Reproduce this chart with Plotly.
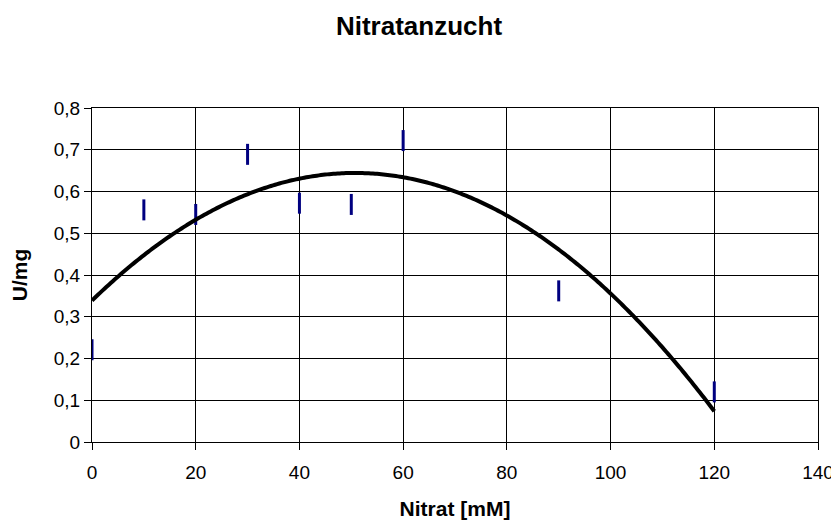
import numpy as np
import plotly.graph_objects as go

# Data
nitrat_mM = [0, 10, 20, 30, 40, 50, 60, 90, 120]
u_per_mg = [0.221, 0.556, 0.545, 0.689, 0.572, 0.569, 0.722, 0.362, 0.120]

x_ticks = [0, 20, 40, 60, 80, 100, 120, 140]
y_ticks = [0, 0.1, 0.2, 0.3, 0.4, 0.5, 0.6, 0.7, 0.8]

# Polynomial (order 2) trendline, as in the original spreadsheet chart
coef = np.polyfit(nitrat_mM, u_per_mg, 2)
trend_x = np.linspace(min(nitrat_mM), max(nitrat_mM), 300)
trend_y = np.polyval(coef, trend_x)

FONT = "Liberation Sans, Arial, sans-serif"

# The page body has an 8px default margin, so the figure is sized to fit the window
W, H = 831, 512

fig = go.Figure()
fig.add_trace(go.Scatter(
    x=nitrat_mM, y=u_per_mg, mode="markers",
    marker=dict(symbol="line-ns", size=15, color="#000080",
                line=dict(color="#000080", width=3)),
    showlegend=False,
))
fig.add_trace(go.Scatter(
    x=trend_x, y=trend_y, mode="lines",
    line=dict(color="black", width=4, simplify=False),
    hoverinfo="skip", showlegend=False,
))

fig.update_layout(
    width=W, height=H,
    paper_bgcolor="white", plot_bgcolor="white",
    separators=", ",
    margin=dict(l=84, r=21, t=100, b=78),
    font=dict(family=FONT, size=19, color="black"),
    title=dict(text="<b>Nitratanzucht</b>", x=411 / W, xanchor="center",
               y=1 - 18 / H, yanchor="middle",
               font=dict(family=FONT, size=26, color="black")),
    xaxis=dict(
        range=[0, 140], tickvals=x_ticks, ticktext=[str(v) for v in x_ticks],
        showgrid=True, gridcolor="black", gridwidth=1,
        showline=True, linecolor="black", linewidth=1, mirror=True,
        ticks="outside", ticklen=7, tickcolor="black", tickwidth=1,
        ticklabelstandoff=6,
        zeroline=False, automargin=False,
        title=dict(text="<b>Nitrat [mM]</b>", standoff=20,
                   font=dict(family=FONT, size=21, color="black")),
    ),
    yaxis=dict(
        range=[0, 0.8], tickvals=y_ticks,
        tickformat=".1~f",
        showgrid=True, gridcolor="black", gridwidth=1,
        showline=True, linecolor="black", linewidth=1, mirror=True,
        ticks="outside", ticklen=7, tickcolor="black", tickwidth=1,
        zeroline=False, automargin=False,
        title=dict(text="<b>U/mg</b>", standoff=27,
                   font=dict(family=FONT, size=21, color="black")),
    ),
)

fig.write_html("out.html")
